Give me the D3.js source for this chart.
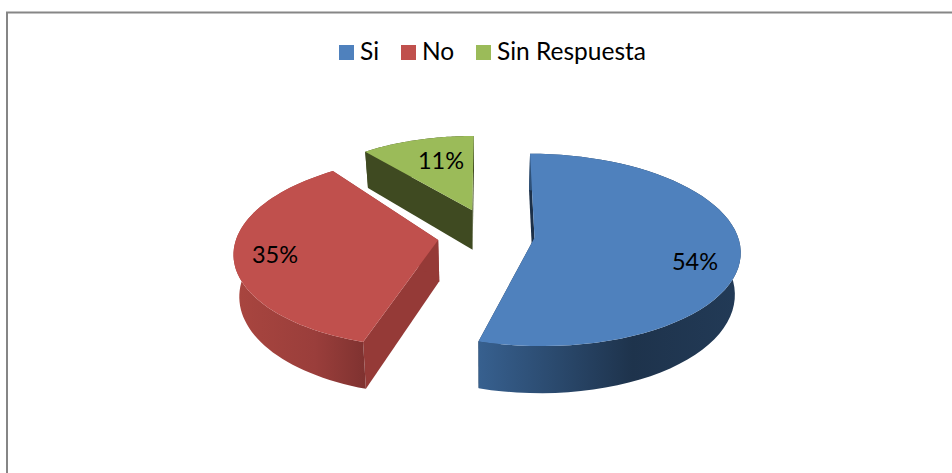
<!DOCTYPE html>
<html>
<head>
<meta charset="utf-8">
<script src="https://cdn.jsdelivr.net/npm/d3@7"></script>
<style>
  html, body { margin: 0; padding: 0; background: #fff; }
  svg { display: block; }
  text { font-family: Lato, "Open Sans", sans-serif; fill: #000; }
</style>
</head>
<body>
<div id="chart"></div>
<script>
'use strict';
const categories = ["Si", "No", "Sin Respuesta"];
const seriesValues = [54, 35, 11];
const topColors = ["#4F81BD", "#C0504D", "#9BBB59"];
const wallColors = ["#1C3048", "#953A37", "#3F4A21"];
// outer rim gradients, left to right
const rimStops = [["#37608F", "#1E334C", "#223A56"], ["#A8453F", "#9A3E3B", "#7F3230"], ["#3F4A21", "#3F4A21", "#3F4A21"]];
// the source chart's 3D rotation pushes each slice's edges a few degrees off
const startNudge = [0.3, 3, 0];
const endNudge = [1.3, 3, 0];
// how far each slice is pulled out of the pie, and its radius, in pie radii
const pullX = [0.238, -0.234, -0.07];
const pullY = [-0.03, -0.052, 0.273];
const sliceRadius = [1, 0.99, 0.94];

const width = 952, height = 473;
const svg = d3.select("#chart").append("svg").attr("width", width).attr("height", height);

// chart frame
svg.append("path").attr("d", `M7,${height}V12.5H${width}`)
  .attr("fill", "none").attr("stroke", "#868686").attr("stroke-width", 2);

const defs = svg.append("defs");

// perspective projection of the pie plane
const cx = 486, cy = 235, rx = 203, ry = 94, persp = 0.125;
const depth = 41, shrink = 0.023;

function project(X, Y, Z) {
  const s = 1 / (1 + persp * Y);
  const px = cx + X * rx * s;
  const py = cy - Y * ry * s + Z * depth * s;
  return [px + (cx - px) * shrink * Z, py];
}

const pie = d3.pie().sort(null).value(d => d);
const arcs = pie(seriesValues).map((d, i) => ({
  i,
  a0: d.startAngle + startNudge[i] * Math.PI / 180,
  a1: d.endAngle + endNudge[i] * Math.PI / 180,
  ex: pullX[i],
  ey: pullY[i],
  r: sliceRadius[i]
}));

const rimPoint = (s, a, z) => project(s.ex + s.r * Math.sin(a), s.ey + s.r * Math.cos(a), z);
const apex = (s, z) => project(s.ex, s.ey, z);
const line = d3.line();

function arcPoints(s, z) {
  return d3.range(0, 61).map(k => rimPoint(s, s.a0 + (s.a1 - s.a0) * k / 60, z));
}

// gradients for the rim, spread over each slice's horizontal extent
arcs.forEach(s => {
  const xs = arcPoints(s, 1).map(p => p[0]);
  const g = defs.append("linearGradient").attr("id", "rim" + s.i)
    .attr("gradientUnits", "userSpaceOnUse")
    .attr("x1", d3.min(xs)).attr("x2", d3.max(xs)).attr("y1", 0).attr("y2", 0);
  rimStops[s.i].forEach((c, k) => g.append("stop").attr("offset", [0, 0.6, 1][k]).attr("stop-color", c));
});

// back to front: green, red, blue
const order = [2, 1, 0];
order.forEach(idx => {
  const s = arcs[idx];
  const g = svg.append("g");
  [s.a0, s.a1].forEach(a => {
    g.append("path")
      .attr("d", line([apex(s, 0), rimPoint(s, a, 0), rimPoint(s, a, 1), apex(s, 1)]) + "Z")
      .attr("fill", wallColors[idx]);
  });
  g.append("path")
    .attr("d", line(arcPoints(s, 0).concat(arcPoints(s, 1).reverse())) + "Z")
    .attr("fill", `url(#rim${idx})`);
  g.append("path")
    .attr("d", line([apex(s, 0)].concat(arcPoints(s, 0))) + "Z")
    .attr("fill", topColors[idx]);
});

// data labels
const labelAt = [[695, 262], [275, 255], [441, 161]];
seriesValues.forEach((v, i) => {
  svg.append("text")
    .attr("x", labelAt[i][0]).attr("y", labelAt[i][1])
    .attr("dy", "0.35em").attr("text-anchor", "middle")
    .attr("font-size", 23.5).text(v + "%");
});

// legend
const legendX = [339, 401, 476];
categories.forEach((c, i) => {
  svg.append("rect").attr("x", legendX[i]).attr("y", 45).attr("width", 15).attr("height", 15).attr("fill", topColors[i]);
  svg.append("text").attr("x", legendX[i] + 21).attr("y", 60).attr("font-size", 24.5).text(c);
});
</script>
</body>
</html>
